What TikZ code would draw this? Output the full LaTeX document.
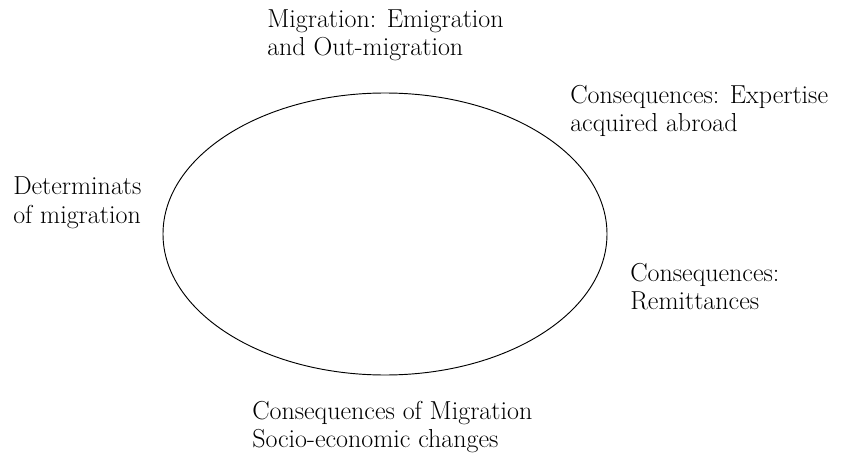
\documentclass[tikz,border=0pt]{standalone}
\begin{document}
\begin{tikzpicture}[x=0.75pt,y=-0.75pt,
  lbl/.style={anchor=base west,align=left,inner sep=0pt,font=\fontsize{19.5}{21}\selectfont}]
\useasboundingbox (0,0) rectangle (843,453);
\draw[line width=0.7pt] (385,234) ellipse [x radius=222, y radius=141];
\node[lbl] (mig) at (267,56) {Migration: Emigration\\and Out-migration};
\node[lbl] (exp) at (570,132) {Consequences: Expertise\\acquired abroad};
\node[lbl] (det) at (13,223) {Determinats\\of migration};
\node[lbl] (rem) at (630,309) {Consequences:\\Remittances};
\node[lbl] (soc) at (252,447) {Consequences of Migration\\Socio-economic changes};
\end{tikzpicture}
\end{document}
